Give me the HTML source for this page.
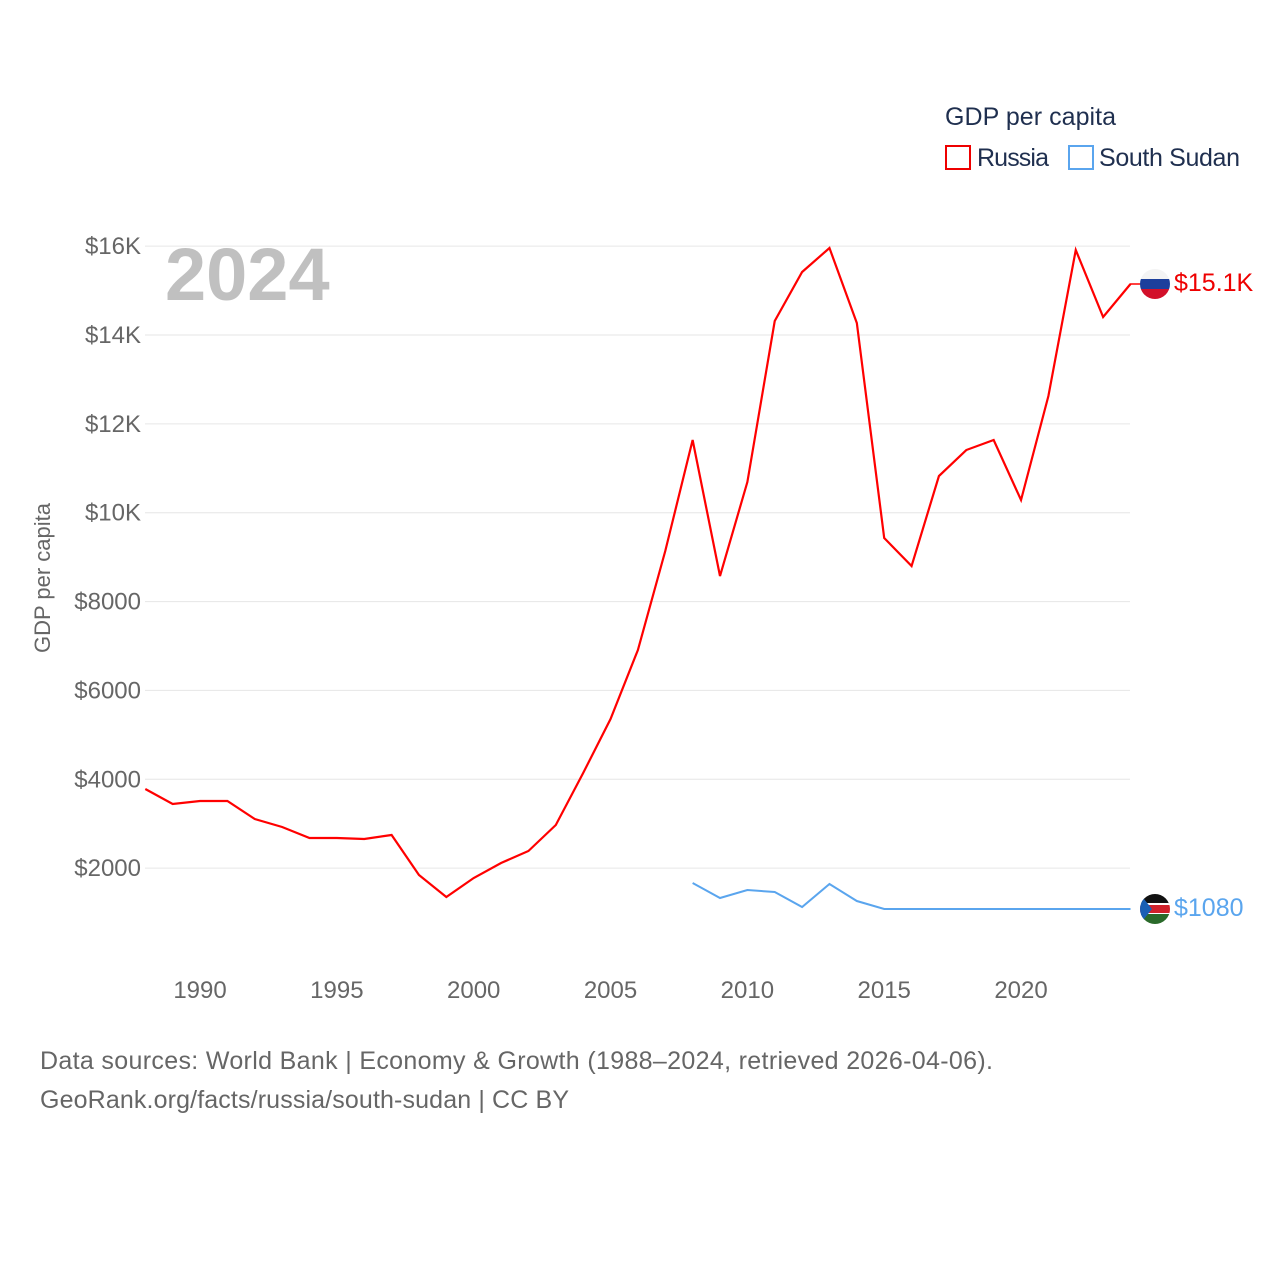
<!DOCTYPE html>
<html><head><meta charset="utf-8">
<style>
body{margin:0;background:#fff;font-family:"Liberation Sans",sans-serif;}
svg text{font-family:"Liberation Sans",sans-serif;}
</style></head>
<body>
<svg id="chart" width="1280" height="1280" viewBox="0 0 1280 1280" xmlns="http://www.w3.org/2000/svg">
<g id="grid"></g>
<g id="yticks"></g>
<g id="xticks"></g>
<text x="165" y="300" font-size="74" font-weight="bold" fill="#c0c0c0">2024</text>
<text transform="translate(50,578) rotate(-90)" text-anchor="middle" font-size="22" fill="#666">GDP per capita</text>
<g id="series"></g>
<g>
<text x="945" y="125" font-size="25" fill="#1f2f4f" textLength="171">GDP per capita</text>
<rect x="946" y="146" width="24" height="23" fill="none" stroke="#e00" stroke-width="2"/>
<text x="977" y="166" font-size="25" fill="#1f2f4f" textLength="72">Russia</text>
<rect x="1069" y="146" width="24" height="23" fill="none" stroke="#5aa5ee" stroke-width="2"/>
<text x="1099" y="166" font-size="25" fill="#1f2f4f" textLength="141">South Sudan</text>
</g>
<line x1="1130" y1="284" x2="1142" y2="284" stroke="#f00" stroke-width="1.5"/>
<g>
<clipPath id="c1"><circle cx="1155" cy="284" r="15"/></clipPath>
<g clip-path="url(#c1)"><rect x="1140" y="269" width="30" height="10" fill="#f4f4f4"/><rect x="1140" y="279" width="30" height="10" fill="#1c3f9c"/><rect x="1140" y="289" width="30" height="10" fill="#d2102a"/></g>
</g>
<g>
<clipPath id="c2"><circle cx="1155" cy="909" r="15"/></clipPath>
<g clip-path="url(#c2)"><rect x="1140" y="894" width="30" height="10" fill="#111"/><rect x="1140" y="903" width="30" height="12" fill="#fff"/><rect x="1140" y="905" width="30" height="8" fill="#d0202a"/><rect x="1140" y="914" width="30" height="10" fill="#2a6a2a"/><polygon points="1140,894 1152,909 1140,924" fill="#1a5fb4"/></g>
</g>
<text x="1174" y="291" font-size="25" fill="#e00">$15.1K</text>
<text x="1174" y="916" font-size="25" fill="#5aa5ee">$1080</text>
<text x="40" y="1069" font-size="25" fill="#666" textLength="953">Data sources: World Bank | Economy &amp; Growth (1988–2024, retrieved 2026-04-06).</text>
<text x="40" y="1108" font-size="25" fill="#666" textLength="529">GeoRank.org/facts/russia/south-sudan | CC BY</text>
</svg>
<script>
const years=[];for(let y=1988;y<=2024;y++)years.push(y);
const russia=[3781,3444,3511,3511,3106,2926,2678,2678,2656,2746,1846,1350,1778,2116,2386,2971,4141,5357,6910,9138,11636,8575,10691,14315,15418,15958,14270,9431,8800,10826,11411,11636,10286,12627,15913,14405,15148];
const ssYears=[2008,2009,2010,2011,2012,2013,2014,2015,2016,2017,2018,2019,2020,2021,2022,2023,2024];
const southSudan=[1666,1328,1508,1463,1125,1643,1260,1080,1080,1080,1080,1080,1080,1080,1080,1080,1080];
const yTicks=[2000,4000,6000,8000,10000,12000,14000,16000];
const yTickLabels=["$2000","$4000","$6000","$8000","$10K","$12K","$14K","$16K"];
const xTicks=[1990,1995,2000,2005,2010,2015,2020];
const NS="http://www.w3.org/2000/svg";
const x=v=>145.3+(v-1988)*(821/30);
const y=v=>957-v*(622/14000);
function mk(t,a,p){const e=document.createElementNS(NS,t);for(const k in a)e.setAttribute(k,a[k]);p.appendChild(e);return e;}
const grid=document.getElementById('grid'),yt=document.getElementById('yticks'),xt=document.getElementById('xticks'),se=document.getElementById('series');
yTicks.forEach((v,i)=>{
 const l=mk('line',{x1:145,x2:1130,y1:y(v),y2:y(v),stroke:'#e6e6e6','stroke-width':1},grid);
 
 
 const t=mk('text',{x:141,y:y(v)+8,'text-anchor':'end','font-size':24,fill:'#666'},yt);
 t.textContent=yTickLabels[i];
 
 
});
xTicks.forEach(v=>{
 const t=mk('text',{x:x(v),y:998,'text-anchor':'middle','font-size':24,fill:'#666'},xt);
 t.textContent=v;
 
 
});
const p1=mk('polyline',{points:years.map((yr,i)=>x(yr)+','+y(russia[i])).join(' '),fill:'none',stroke:'#f00','stroke-width':2.2},se);


const p2=mk('polyline',{points:ssYears.map((yr,i)=>x(yr)+','+y(southSudan[i])).join(' '),fill:'none',stroke:'#5aa5ee','stroke-width':2},se);


</script>
</body></html>
